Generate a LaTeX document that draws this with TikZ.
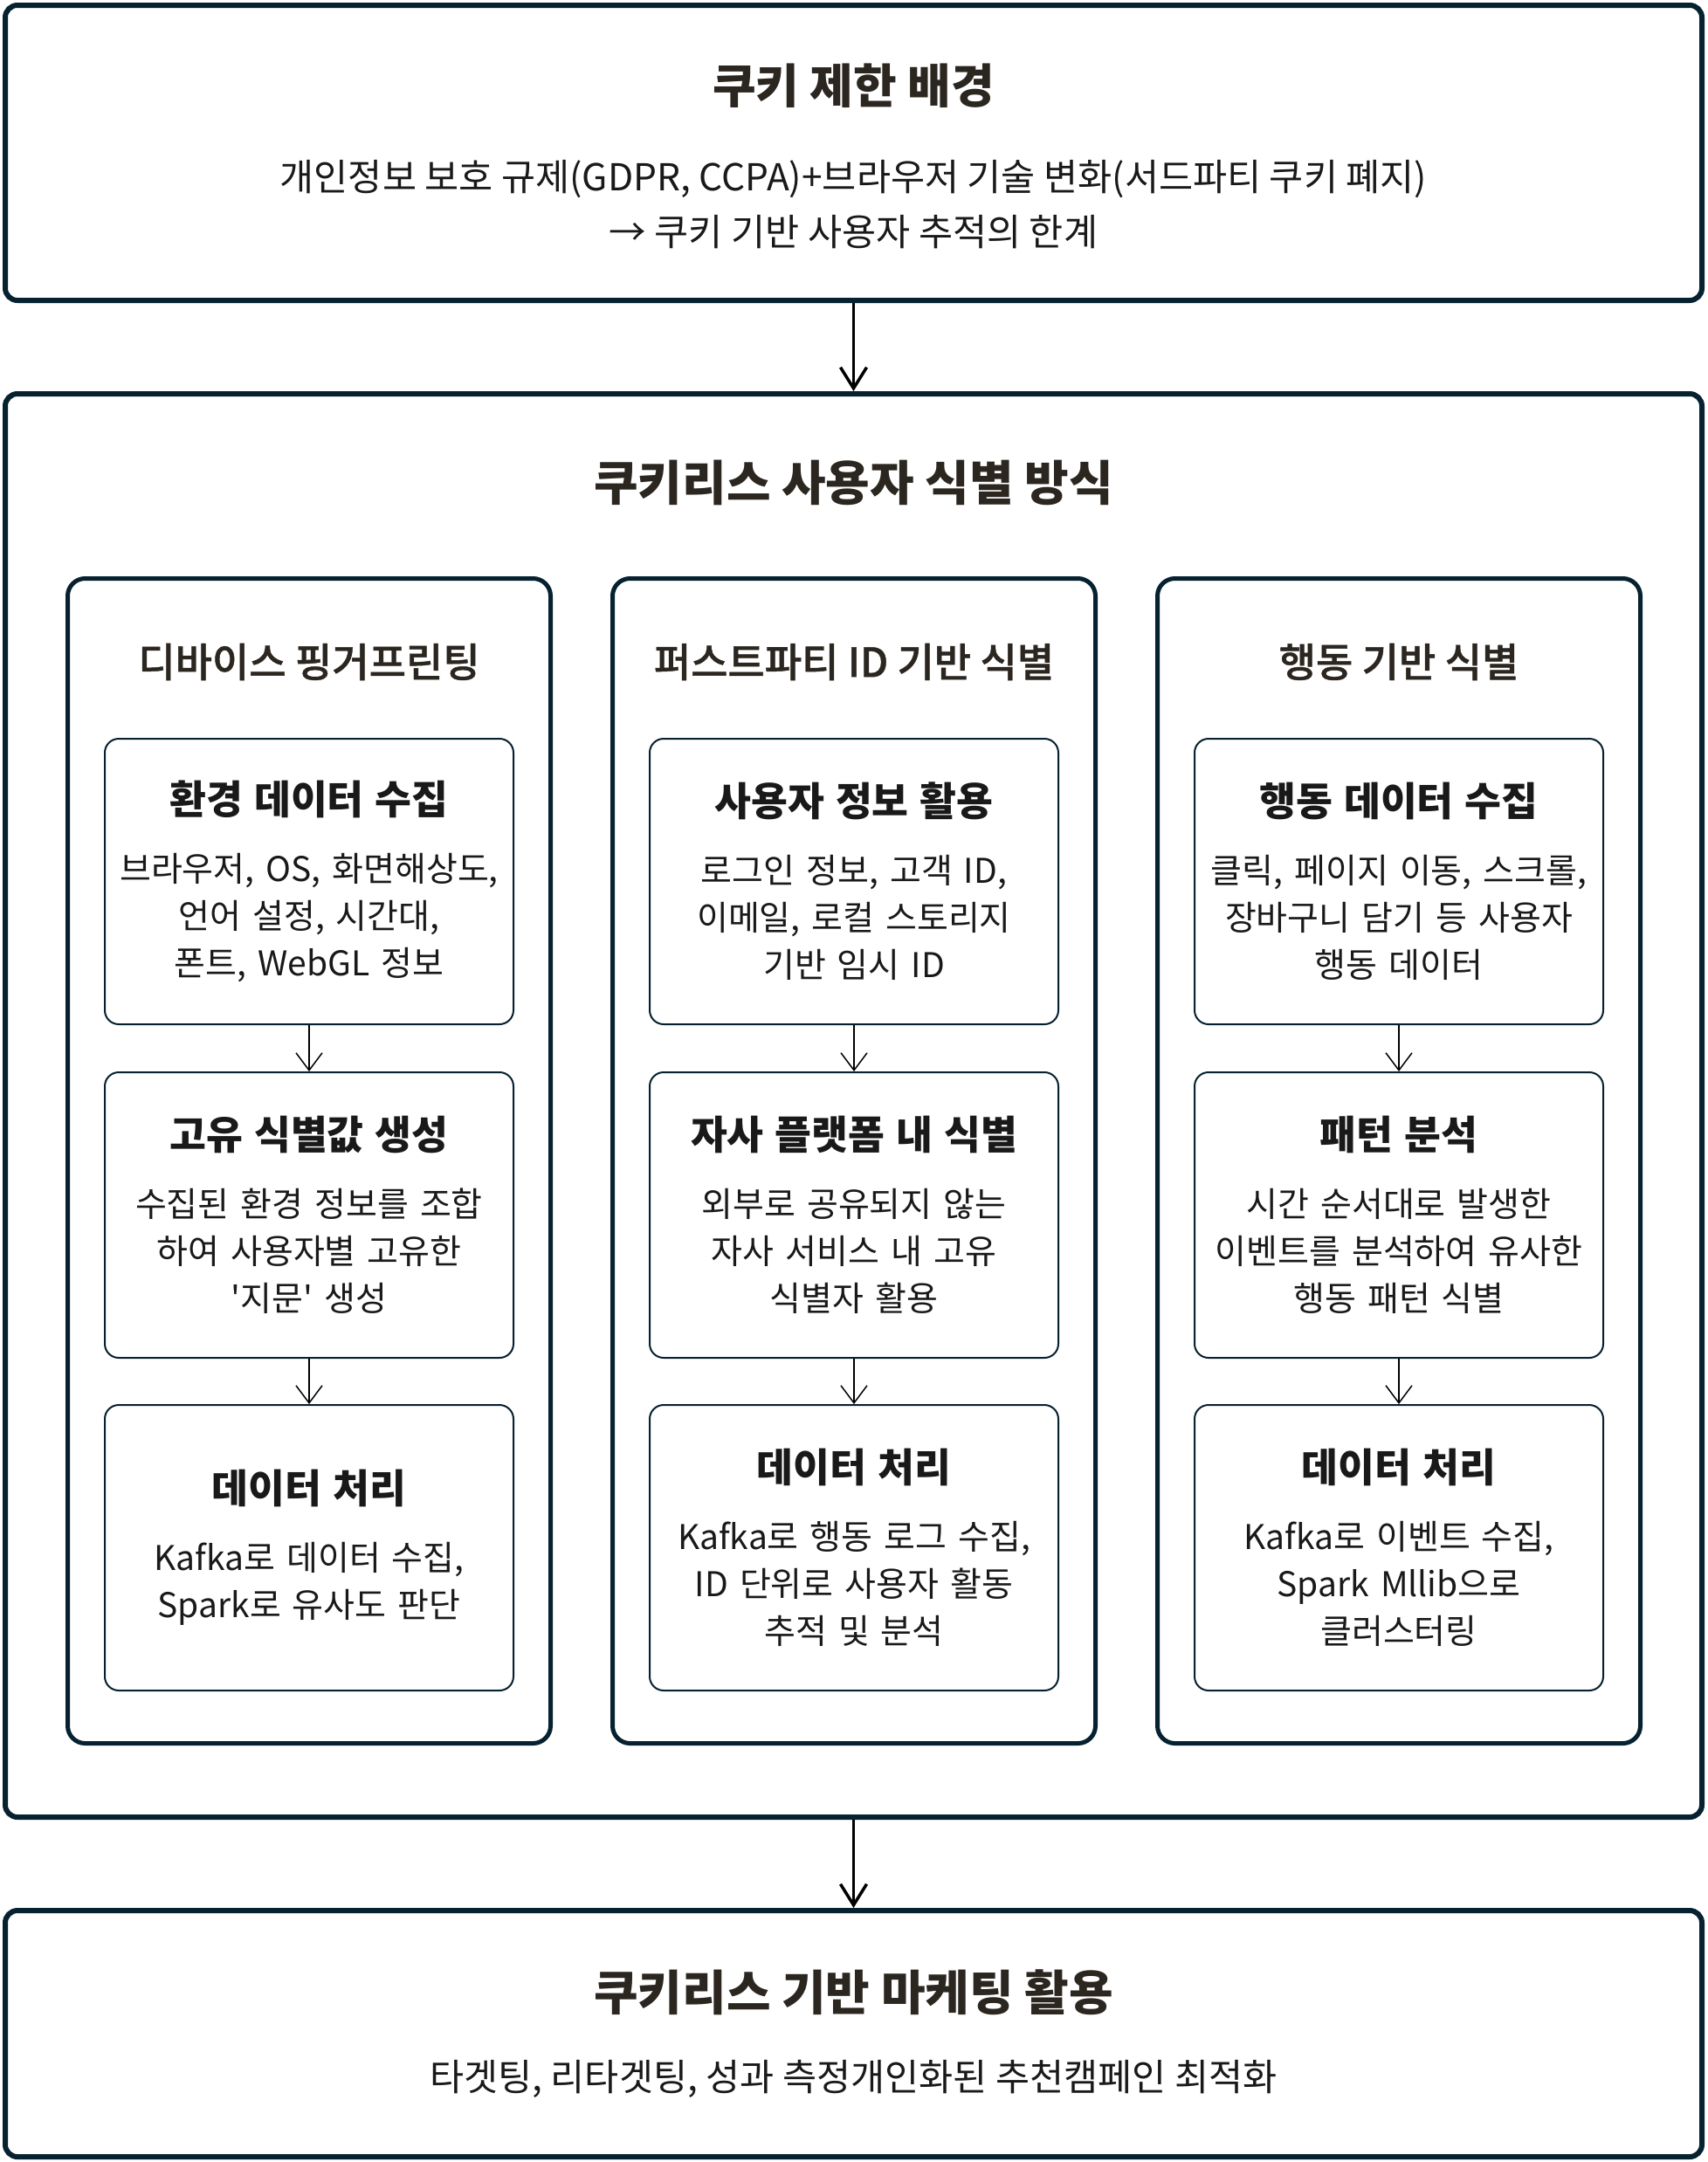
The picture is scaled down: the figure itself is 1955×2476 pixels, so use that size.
\documentclass[tikz,border=0pt]{standalone}
\usepackage{fontspec}
\setmainfont{Noto Sans CJK KR}
\newfontfamily\krmedium[FakeBold=1]{Noto Sans CJK KR Medium}
\usetikzlibrary{positioning,arrows.meta}
\definecolor{boxline}{HTML}{06212F}
\definecolor{ink}{HTML}{2B2620}
\newcommand{\bigtitle}{\fontsize{55}{66}\selectfont\bfseries}
\newcommand{\toptitle}{\fontsize{54}{64}\selectfont\bfseries}
\newcommand{\colfont}{\fontsize{46}{54}\selectfont\krmedium}
\newcommand{\stepfont}{\fontsize{45.5}{54}\selectfont\bfseries}
\newcommand{\bodyfont}{\fontsize{39}{54}\selectfont}
\newcommand{\mainbody}{\fontsize{42.5}{63}\selectfont}
\tikzset{%
outerbox/.style={draw=boxline,line width=6pt,rounded corners=14pt,minimum width=1943pt,inner sep=0},
colbox/.style={draw=boxline,line width=5pt,rounded corners=20pt,minimum width=553pt,minimum height=1334pt,inner sep=0},
stepbox/.style={draw=boxline,line width=2pt,rounded corners=16pt,minimum width=468pt,minimum height=327pt,
  text width=460pt,align=center,font=\bodyfont,text=black!90,inner sep=0},
maintitle/.style={font=\bigtitle,text=ink,inner sep=0},
colhead/.style={font=\colfont,text=ink,inner sep=0},
bodytext/.style={font=\mainbody,text=black!90,align=center,inner sep=0},
link/.style={-{Straight Barb[length=24pt,width=30pt]},line width=3.5pt},
flow/.style={-{Straight Barb[length=20pt,width=30pt]},line width=1.5pt}
}
\begin{document}
\begin{tikzpicture}[x=1pt,y=-1pt]
\useasboundingbox (0,0) rectangle (1955,2476);

% three stages
\node[outerbox,minimum height=338pt] (bg) at (977.5,175) {};
\node[outerbox,minimum height=1630pt] (ways) at (977.5,1266) {};
\node[outerbox,minimum height=282pt] (use) at (977.5,2329) {};

\node[maintitle,font=\toptitle] (bgtitle) at ([yshift=-95pt]bg.north) {쿠키 제한 배경};
\node[bodytext] (bgtext) at ([yshift=-231pt]bg.north) {개인정보 보호 규제(GDPR, CCPA)+브라우저 기술 변화(서드파티 쿠키 폐지)\\ → 쿠키 기반 사용자 추적의 한계};

\node[maintitle] (waystitle) at ([yshift=-105pt]ways.north) {쿠키리스 사용자 식별 방식};

\node[maintitle] (usetitle) at ([yshift=-97pt]use.north) {쿠키리스 기반 마케팅 활용};
\node[bodytext] (usetext) at ([yshift=-196pt]use.north) {타겟팅, 리타겟팅, 성과 측정개인화된 추천캠페인 최적화};

% columns
\node[colbox] (fp) at (354,1329.5) {};
\node[colbox] (pid) at (978,1329.5) {};
\node[colbox] (act) at (1602,1329.5) {};

\node[colhead] (fphead) at ([yshift=-98pt]fp.north) {디바이스 핑거프린팅};
\node[colhead] (pidhead) at ([yshift=-98pt]pid.north) {퍼스트파티 ID 기반 식별};
\node[colhead] (acthead) at ([yshift=-98pt]act.north) {행동 기반 식별};

\node[stepbox,below=185pt of fp.north] (fp1) {{\stepfont 환경 데이터 수집}\\[23pt]
  브라우저, OS, 화면해상도,\\ 언어 설정, 시간대,\\ 폰트, WebGL 정보};
\node[stepbox,below=53pt of fp1] (fp2) {{\stepfont 고유 식별값 생성}\\[23pt]
  수집된 환경 정보를 조합\\ 하여 사용자별 고유한\\ \textquotesingle 지문\textquotesingle\ 생성};
\node[stepbox,below=52pt of fp2] (fp3) {{\stepfont 데이터 처리}\\[23pt]
  Kafka로 데이터 수집,\\ Spark로 유사도 판단};

\node[stepbox,below=185pt of pid.north] (pid1) {{\stepfont 사용자 정보 활용}\\[23pt]
  로그인 정보, 고객 ID,\\ 이메일, 로컬 스토리지\\ 기반 임시 ID};
\node[stepbox,below=53pt of pid1] (pid2) {{\stepfont 자사 플랫폼 내 식별}\\[23pt]
  외부로 공유되지 않는\\ 자사 서비스 내 고유\\ 식별자 활용};
\node[stepbox,below=52pt of pid2] (pid3) {{\stepfont 데이터 처리}\\[23pt]
  Kafka로 행동 로그 수집,\\ ID 단위로 사용자 활동\\ 추적 및 분석};

\node[stepbox,below=185pt of act.north] (act1) {{\stepfont 행동 데이터 수집}\\[23pt]
  클릭, 페이지 이동, 스크롤,\\ 장바구니 담기 등 사용자\\ 행동 데이터};
\node[stepbox,below=53pt of act1] (act2) {{\stepfont 패턴 분석}\\[23pt]
  시간 순서대로 발생한\\ 이벤트를 분석하여 유사한\\ 행동 패턴 식별};
\node[stepbox,below=52pt of act2] (act3) {{\stepfont 데이터 처리}\\[23pt]
  Kafka로 이벤트 수집,\\ Spark Mllib으로\\ 클러스터링};

\path[link] (bg) edge (ways)
            (ways) edge (use);
\foreach \c in {fp,pid,act}
  \path[flow] (\c1) edge (\c2)
              (\c2) edge (\c3);
\end{tikzpicture}
\end{document}
